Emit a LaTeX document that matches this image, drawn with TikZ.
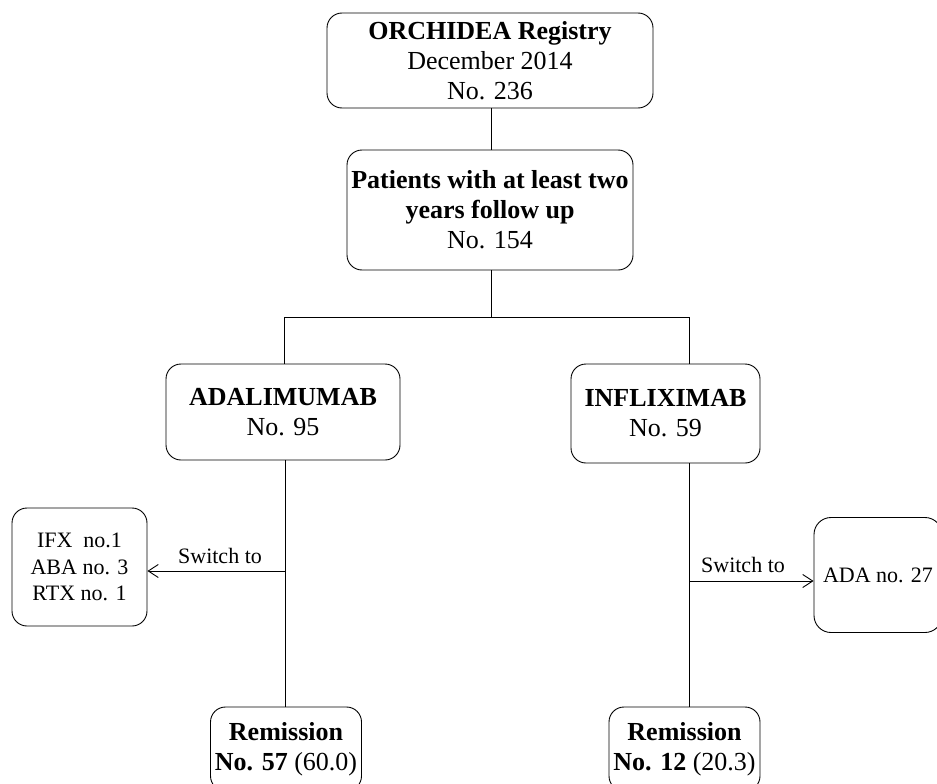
\documentclass[tikz,border=0pt]{standalone}
\usepackage{fontspec}
\setmainfont{Liberation Serif}
\usetikzlibrary{arrows.meta}
\newcommand{\bigsz}{\fontsize{26}{30}\selectfont}
\newcommand{\smallsz}{\fontsize{22}{26.5}\selectfont}
\tikzset{
  flowbox/.style={draw, rounded corners=15pt, align=center, inner sep=0pt, line width=0.9pt, font=\bigsz},
  smallbox/.style={flowbox, font=\smallsz},
  conn/.style={line width=0.9pt},
  arr/.style={line width=0.9pt, -{Straight Barb[length=10pt,width=13pt,line width=0.9pt]}},
  lbl/.style={font=\smallsz, inner sep=0pt, anchor=base}
}
\begin{document}
\begin{tikzpicture}[x=1pt,y=1pt]
\useasboundingbox (0,0) rectangle (937,-784);
\clip (0,0) rectangle (937,-784);
\fill[white] (0,0) rectangle (937,-784);

\node[flowbox, minimum width=326, minimum height=95] (reg) at (490,-60.5)
  {\textbf{ORCHIDEA Registry}\\December 2014\\No. 236};
\node[flowbox, minimum width=286, minimum height=120] (pat) at (490,-210)
  {\textbf{Patients with at least two}\\\textbf{years follow up}\\No. 154};
\node[flowbox, minimum width=234, minimum height=96] (ada) at (283,-412)
  {\textbf{ADALIMUMAB}\\No. 95};
\node[flowbox, minimum width=189, minimum height=99] (inf) at (665.5,-413.5)
  {\textbf{INFLIXIMAB}\\No. 59};
\node[flowbox, minimum width=151, minimum height=84] (rem1) at (286,-749)
  {\textbf{Remission}\\\textbf{No. 57} (60.0)};
\node[flowbox, minimum width=151, minimum height=84] (rem2) at (684.5,-749)
  {\textbf{Remission}\\\textbf{No. 12} (20.3)};
\node[smallbox, minimum width=135, minimum height=118] (sw1) at (79.5,-567)
  {IFX\ \ no.1\\ABA no. 3\\RTX no. 1};
\node[smallbox, minimum width=128, minimum height=115, rounded corners=17pt] (sw2) at (878,-575)
  {ADA no. 27};

% connectors
\coordinate (mid) at (491,-317);
\coordinate (lsplit) at (284,-317);
\coordinate (rsplit) at (689,-317);
\draw[conn] (reg.south -| mid) -- (pat.north -| mid);
\draw[conn] (pat.south -| mid) -- (mid);
\draw[conn] (lsplit) -- (rsplit);
\draw[conn] (lsplit) -- (ada.north -| lsplit);
\draw[conn] (rsplit) -- (inf.north -| rsplit);

\coordinate (lline) at (285,-571);
\coordinate (rline) at (689,-581);
\draw[conn] (ada.south -| lline) -- (rem1.north -| lline);
\draw[conn] (inf.south -| rline) -- (rem2.north -| rline);

\draw[arr] (lline) -- (lline -| sw1.east);
\draw[arr] (rline) -- (rline -| sw2.west);

\node[lbl] (sl1) at (220,-563) {Switch to};
\node[lbl] (sl2) at (743,-572) {Switch to};
\end{tikzpicture}
\end{document}
